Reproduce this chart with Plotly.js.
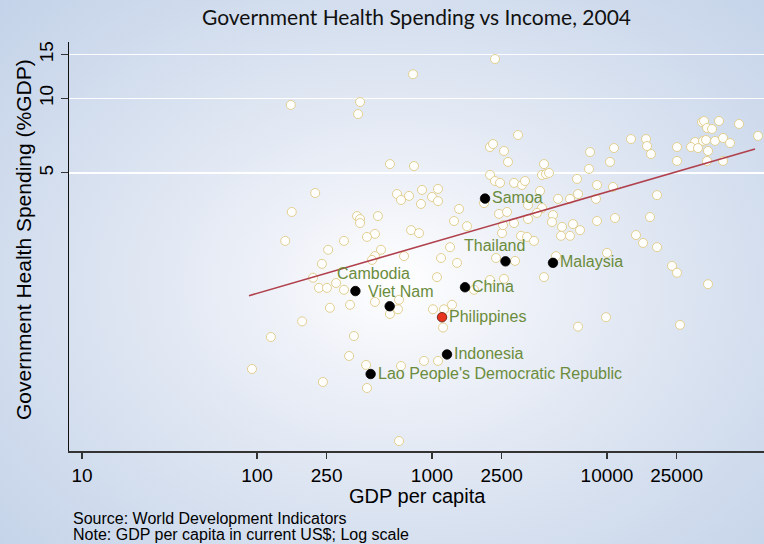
<!DOCTYPE html>
<html>
<head>
<meta charset="utf-8">
<script src="https://cdn.plot.ly/plotly-3.0.1.min.js"></script>
<style>
html,body{margin:0;padding:0;}
#chart{width:764px;height:544px;background:radial-gradient(ellipse 75% 80% at 52% 52%, #ffffff 0%, #eef1f8 22%, #d6e0ef 60%, #c1d1e8 100%);}
</style>
</head>
<body>
<div id="chart"></div>
<script>
// GDP per capita (current US$) and government health spending (% of GDP)
const gdp = [2291,779,156,388,378,575,789,215,158,373,388,388,491,631,665,739,877,865,1000,1082,1082,
  472,425,314,145,255,511,759,843,472,454,692,235,1268,1336,1427,1585,1126,1390,1068,209,226,251,283,314,
  261,340,472,648,575,639,181,120,358,93.6,336,238,420,425,665,900,1082,1156,1013,1171,1301,1738,2145,2578,
  2321,2981,1982,2145,2291,2447,2942,3268,3400,2415,2683,2718,2578,2145,2232,3100,2512,2545,2942,3226,3491,
  3537,3537,4365,4252,4481,4662,4141,4252,3981,3827,4365,5111,7998,10400,7894,6741,8770,10820,10960,13710,
  16710,16930,17840,19310,6830,6146,5248,8652,4913,4850,8770,11110,17610,5533,6393,7010,5459,6146,14640,
  16060,19310,10000,23520,25120,37770,9870,6830,26130,34910,35840,43650,56800,37280,39810,72950,31850,
  35370,36790,41410,46030,50470,30200,33110,37770,25120,25120,37280,46030,648];
const health = [14.4,12.5,9.40,9.66,8.64,5.43,5.33,4.15,3.48,3.35,3.26,3.14,3.35,4.11,3.89,4.04,4.27,3.75,4.00,4.31,3.85,
  2.84,2.76,2.66,2.66,2.45,2.45,2.94,2.86,2.31,2.23,2.31,2.15,2.51,3.20,3.58,3.05,2.27,2.17,1.90,1.89,1.72,1.72,1.80,1.69,
  1.43,1.47,1.51,1.54,1.35,1.41,1.26,1.09,1.10,0.810,0.914,0.718,0.841,0.679,0.833,0.873,0.873,1.19,1.41,1.41,1.47,1.69,1.85,1.87,
  2.27,2.21,3.78,4.91,4.64,4.56,4.56,4.47,4.64,3.42,3.48,5.54,6.13,6.36,6.54,7.11,2.86,3.08,3.14,2.79,2.76,
  3.26,3.71,5.43,4.91,4.95,5.00,4.23,3.61,3.45,2.66,1.90,2.31,6.07,5.54,5.19,4.73,4.47,4.39,6.30,6.85,
  6.85,6.42,5.96,4.07,4.11,3.93,3.93,3.93,3.38,3.17,3.20,3.29,3.32,3.03,3.11,2.94,2.79,2.79,2.81,
  2.61,2.51,2.38,2.11,1.98,1.78,1.31,1.20,1.22,8.02,8.10,8.10,7.88,7.59,7.52,7.05,6.66,
  6.73,6.79,6.73,6.92,6.60,6.36,6.30,6.13,6.36,5.59,5.59,5.59,0.415];

const hlCountry = ["Samoa","Thailand","Malaysia","China","Cambodia","Viet Nam","Philippines","Indonesia","Lao People's Democratic Republic"];
const hlGdp = [2009,2630,4913,1544,365,573,1141,1218,446];
const hlHealth = [3.94,2.20,2.17,1.73,1.67,1.45,1.31,0.927,0.773];

const fitGdp = [90,70100];
const fitHealth = [1.60,6.245];

const xTickVals = [10,100,250,1000,2500,10000,25000];
const yTickVals = [5,10,15];

const titleText = "Government Health Spending vs Income, 2004";
const xTitle = "GDP per capita";
const yTitle = "Government Health Spending (%GDP)";
const sourceText = "Source: World Development Indicators";
const noteText = "Note: GDP per capita in current US$; Log scale";

// styles (positions of labels relative to markers)
const labelStyle = {
  "Thailand": {xanchor:"center", xshift:-11, yshift:16},
  "Cambodia": {xanchor:"center", xshift:18, yshift:18},
  "Viet Nam": {xanchor:"center", xshift:11, yshift:15},
  "default": {xanchor:"left", xshift:5, yshift:1}
};
const FONT = "Liberation Sans, Arial, sans-serif";
const GREEN = "#6b8c3c";

const traces = [
  {x: gdp, y: health, type:"scatter", mode:"markers", hoverinfo:"skip",
   marker:{size:9, color:"#ffffff", line:{color:"#e2cf90", width:1}}},
  {x: fitGdp, y: fitHealth, type:"scatter", mode:"lines", hoverinfo:"skip",
   line:{color:"#b0404c", width:1.6}},
  {x: hlGdp, y: hlHealth, type:"scatter", mode:"markers", hoverinfo:"skip",
   marker:{size:9.5, color: hlCountry.map(c => c==="Philippines" ? "#e8341f" : "#000000"),
           line:{color: hlCountry.map(c => c==="Philippines" ? "#5a1a10" : "#000000"), width:0.8}}}
];

const annotations = hlCountry.map((c,i) => {
  const s = labelStyle[c] || labelStyle["default"];
  return {x: Math.log10(hlGdp[i]), y: Math.log10(hlHealth[i]), xref:"x", yref:"y",
    text: c, showarrow:false, xanchor:s.xanchor, yanchor:"middle", xshift:s.xshift, yshift:s.yshift,
    font:{family:FONT, size:16, color:GREEN}};
});
annotations.push({xref:"paper", yref:"paper", x:0.003, y:-0.166, xanchor:"left", yanchor:"middle",
  text: sourceText, showarrow:false, font:{family:FONT, size:16, color:"#000"}});
annotations.push({xref:"paper", yref:"paper", x:0.003, y:-0.205, xanchor:"left", yanchor:"middle",
  text: noteText, showarrow:false, font:{family:FONT, size:16, color:"#000"}});
annotations.push({xref:"paper", yref:"paper", x:-0.0647, y:0.516, xanchor:"center", yanchor:"middle",
  textangle:-90, text: yTitle, showarrow:false, font:{family:FONT, size:21, color:"#000"}});
annotations.push({xref:"paper", yref:"paper", x:0.502, y:-0.1027, xanchor:"center", yanchor:"middle",
  yshift:-3, borderpad:0,
  text: xTitle, showarrow:false, font:{family:FONT, size:20, color:"#000"}});

const layout = {
  width:764, height:544,
  paper_bgcolor:"rgba(0,0,0,0)", plot_bgcolor:"rgba(0,0,0,0)",
  margin:{l:69, r:0, t:42, b:93},
  showlegend:false,
  title:{text:titleText, font:{family:"Lato, sans-serif", size:21, color:"#111"},
         xref:"paper", x:0.5, xanchor:"center", yref:"container", y:0.967, yanchor:"middle"},
  xaxis:{type:"log", range:[0.9257,4.8971], tickvals:xTickVals, ticktext:xTickVals.map(String),
    ticks:"outside", ticklen:6, tickwidth:1.5, tickcolor:"#333",
    showline:true, linecolor:"#333", linewidth:2, showgrid:false, zeroline:false,
    tickfont:{family:FONT, size:19, color:"#000"}},
  yaxis:{type:"log", range:[-0.4222,1.227], tickvals:yTickVals, ticktext:yTickVals.map(String),
    ticks:"outside", ticklen:7, tickwidth:1, tickcolor:"#333", tickangle:-90,
    showline:true, linecolor:"#111", linewidth:1.5, showgrid:true, gridcolor:"#ffffff", gridwidth:1.5, zeroline:false,
    tickfont:{family:FONT, size:19, color:"#000"}},
  annotations: annotations
};

Plotly.newPlot("chart", traces, layout, {displayModeBar:false, staticPlot:true});
</script>
</body>
</html>
